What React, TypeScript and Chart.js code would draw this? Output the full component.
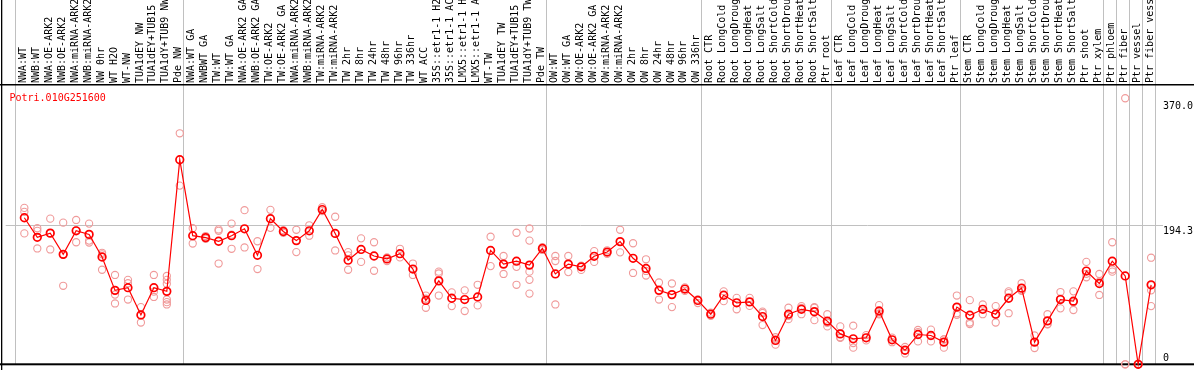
import React, { useEffect, useRef } from "react";
import { Chart, registerables } from "chart.js";

Chart.register(...registerables);

const geneId = "Potri.010G251600";

const categories = [
  "NWA:WT", "NWB:WT", "NWA:OE-ARK2", "NWB:OE-ARK2", "NWA:miRNA-ARK2", "NWB:miRNA-ARK2",
  "NW 0hr", "WT H2O", "WT-NW", "TUA1dEY NW", "TUA1dEY+TUB15 NW", "TUA1dY+TUB9 NW", "Pde NW",
  "NWA:WT GA", "NWBWT GA", "TW:WT", "TW:WT GA", "NWA:OE-ARK2 GA", "NWB:OE-ARK2 GA",
  "TW:OE-ARK2", "TW:OE-ARK2 GA", "NWA:miRNA-ARK2 GA", "NWB:miRNA-ARK2 GA", "TW:miRNA-ARK2",
  "TW:miRNA-ARK2 GA", "TW 2hr", "TW 8hr", "TW 24hr", "TW 48hr", "TW 96hr", "TW 336hr", "WT ACC",
  "35S::etr1-1 H2O", "35S::etr1-1 ACC", "LMX5::etr1-1 H2O", "LMX5::etr1-1 ACC", "WT-TW",
  "TUA1dEY TW", "TUA1dEY+TUB15 TW", "TUA1dY+TUB9 TW", "Pde TW",
  "OW:WT", "OW:WT GA", "OW:OE-ARK2", "OW:OE-ARK2 GA", "OW:miRNA-ARK2", "OW:miRNA-ARK2 GA",
  "OW 2hr", "OW 8hr", "OW 24hr", "OW 48hr", "OW 96hr", "OW 336hr",
  "Root CTR", "Root LongCold", "Root LongDrought", "Root LongHeat", "Root LongSalt",
  "Root ShortCold", "Root ShortDrought", "Root ShortHeat", "Root ShortSalt", "Ptr root",
  "Leaf CTR", "Leaf LongCold", "Leaf LongDrought", "Leaf LongHeat", "Leaf LongSalt",
  "Leaf ShortCold", "Leaf ShortDrought", "Leaf ShortHeat", "Leaf ShortSalt", "Ptr leaf",
  "Stem CTR", "Stem LongCold", "Stem LongDrought", "Stem LongHeat", "Stem LongSalt",
  "Stem ShortCold", "Stem ShortDrought", "Stem ShortHeat", "Stem ShortSalt", "Ptr shoot",
  "Ptr xylem", "Ptr phloem", "Ptr fiber", "Ptr vessel", "Ptr fiber vessel",
];

// index of the first category of each group (last entry = end)
const groupStarts = [0, 13, 41, 53, 63, 73, 84, 85, 86, 87, 88];

const means = [
  205.7, 178.2, 184.1, 154.3, 187.4, 182.3, 150.6, 103.8, 107.5, 69.3, 107.5, 102.4, 287.1,
  180.5, 177.8, 172.7, 180.5, 190.2, 153.0, 204.4, 186.4, 173.6, 187.4, 217.2, 183.7, 146.1,
  161.2, 152.0, 147.9, 155.2, 133.7, 89.6, 117.1, 92.7, 90.9, 94.5, 159.8, 140.6, 144.7, 139.2,
  162.6, 126.8, 140.6, 136.8, 151.6, 157.5, 172.2, 148.8, 134.5, 103.8, 97.8, 105.6, 89.6,
  70.3, 96.9, 86.3, 87.6, 67.0, 33.5, 70.3, 77.2, 73.9, 60.6, 42.7,
  35.8, 37.2, 74.8, 34.4, 19.7, 41.8, 40.4, 31.1, 80.3, 68.9,
  77.2, 70.3, 92.7, 106.9, 31.1, 61.0, 90.9, 88.6, 130.9, 113.4, 144.7, 124.0, 0, 111.6,
];

const replicates = [
  [219.5, 214, 183.7], [191, 187.4, 162.6], [204.4, 184.1, 161.2], [198.8, 154, 110.2],
  [202.6, 188, 171.3], [197.5, 173.6, 170.9], [156.5, 154.3, 132.7], [125.4, 97.8, 85.4],
  [118.5, 113.8, 90.9], [80.3, 69, 58.7], [125.4, 102, 94.5], [124, 118.5, 113, 90.9, 87.2, 84],
  [324.2, 250.8],
  [191, 169.5], [180, 176], [187.4, 189.3, 141.4], [197.5, 182, 162.1], [216.3, 164],
  [172.7, 133.7], [216.8, 191.5], [188.3, 184.5], [188.8, 157.5], [195.1, 180.5], [220.5, 215],
  [207.1, 159.8], [157.5, 153, 132.7], [176.8, 143.7], [171.3, 131.3], [150, 145], [162.1, 150],
  [141.4, 125.4], [96.5, 92, 79.4], [130, 127.5, 96.5], [101, 81.7], [103.8, 74.8], [111.6, 82.7],
  [179.1, 137.8], [152, 126.8], [184.6, 136.8, 111.6], [190.6, 173.6, 130, 118.5, 99.2],
  [164.5, 160.5],
  [152, 145, 84], [152, 129.4], [138.5, 132.5], [158.9, 143.7], [160, 155], [188.8, 157.1],
  [169.9, 128.2], [147.4, 131, 124.6], [114.8, 90.9], [113.4, 80.3], [108, 103], [91, 86],
  [72.5, 68], [102.4, 88.6], [93.2, 77.2], [93.2, 82], [73.9, 55.1, 72], [38, 27.6, 35],
  [79.4, 63.4, 68], [81.7, 70.3, 79], [80.3, 79.4, 62], [70.3, 53.2, 58.3],
  [53.2, 38, 37], [54.2, 23.4, 29.8], [41, 33.5], [83.1, 70, 71.3], [37.5, 31], [24.3, 19.7, 15.2],
  [48.2, 45, 32.1], [48.6, 40.4, 32.1], [35, 23.4, 35], [96.5, 71.7, 69.5],
  [90, 58.7, 56.5], [84, 70.3], [81.7, 58.7, 70.3], [102.4, 100, 71.7], [113.8, 104, 103],
  [40.4, 22.9], [70.3, 56.5, 56], [101.4, 92, 78.5], [102.4, 87, 76.2], [143.7, 127, 122.1],
  [126.8, 116, 97.3], [171.3, 133, 130], [373.4, 0, 0], [0, 0, 0], [149.6, 111, 103.8, 81.7],
];

const yTickValues = [0, 194.3, 370.0];
const yTickLabels = ["0", "194.3", "370.0"];
const yMax = 392;

const MONO = '"DejaVu Sans Mono", "Liberation Mono", monospace';

const framePlugin = {
  id: "frame",
  beforeDatasetsDraw(chart: any) {
    const { ctx, chartArea, scales } = chart;
    const xs = scales.x;
    ctx.save();
    ctx.fillStyle = "#c0c0c0";
    groupStarts.forEach((k) => {
      const px = Math.floor(xs.getPixelForValue(k - 0.68));
      ctx.fillRect(px, 0, 1, chartArea.bottom);
    });
    ctx.fillStyle = "#000";
    ctx.fillRect(1, 0, 1.3, chart.height);
    ctx.fillRect(0, chartArea.top - 1, chart.width, 1.5);
    ctx.fillRect(0, chartArea.bottom - 1, chart.width, 2);
    ctx.restore();
  },
  afterDatasetsDraw(chart: any) {
    const { ctx, chartArea, scales } = chart;
    const ys = scales.y;
    ctx.save();
    ctx.font = `10px ${MONO}`;
    ctx.fillStyle = "#ff0000";
    ctx.textAlign = "left";
    ctx.textBaseline = "alphabetic";
    ctx.fillText(geneId, 9.5, chartArea.top + 15.5);
    ctx.fillStyle = "#000";
    ys.ticks.forEach((t: any) => {
      const py = ys.getPixelForValue(t.value);
      const label = yTickLabels[yTickValues.indexOf(t.value)] ?? String(t.value);
      if (py > chartArea.bottom - 6) {
        ctx.textBaseline = "alphabetic";
        ctx.fillText(label, chartArea.right + 8, py - 3.5);
      } else {
        ctx.textBaseline = "top";
        ctx.fillText(label, chartArea.right + 8, py + 0.5);
      }
    });
    ctx.restore();
  },
};

export default function App() {
  const ref = useRef<HTMLCanvasElement | null>(null);
  useEffect(() => {
    document.body.style.margin = "0";
    const canvas = ref.current;
    if (!canvas) return;
    const meanData = means.map((v, i) => ({ x: i, y: v }));
    const repData: { x: number; y: number }[] = [];
    replicates.forEach((arr, i) => arr.forEach((v) => repData.push({ x: i, y: v })));
    const chart = new Chart(canvas, {
      type: "line",
      data: {
        datasets: [
          {
            label: "mean",
            data: meanData,
            borderColor: "#ff0000",
            borderWidth: 1.2,
            pointRadius: 3.8,
            pointBorderWidth: 1.7,
            pointBorderColor: "#ff0000",
            pointBackgroundColor: "rgba(0,0,0,0)",
            tension: 0,
            clip: false,
          },
          {
            label: "replicates",
            data: repData,
            showLine: false,
            borderColor: "#f09a9a",
            pointRadius: 3.6,
            pointBorderWidth: 1.1,
            pointBorderColor: "#f09a9a",
            pointBackgroundColor: "rgba(0,0,0,0)",
            clip: false,
          },
        ],
      },
      options: {
        responsive: false,
        animation: false,
        devicePixelRatio: 1,
        layout: { padding: { left: 1, bottom: 1, top: 0, right: 0 } },
        plugins: { legend: { display: false }, tooltip: { enabled: false } },
        events: [],
        scales: {
          x: {
            type: "linear",
            position: "top",
            min: -1.44,
            max: 87.3,
            grid: { display: false, drawTicks: false },
            border: { display: false },
            afterBuildTicks: (scale: any) => {
              scale.ticks = categories.map((_, i) => ({ value: i }));
            },
            afterFit: (scale: any) => {
              scale.height = 85;
            },
            ticks: {
              autoSkip: false,
              minRotation: 90,
              maxRotation: 90,
              padding: 2,
              labelOffset: 11,
              color: "#000",
              font: { family: MONO, size: 10 },
              callback: (v: any) => categories[v as number] ?? "",
            },
          },
          y: {
            type: "linear",
            position: "right",
            min: 0,
            max: yMax,
            afterBuildTicks: (scale: any) => {
              scale.ticks = yTickValues.map((v) => ({ value: v }));
            },
            afterFit: (scale: any) => {
              scale.width = 39;
            },
            border: { display: false },
            grid: {
              color: (c: any) => (c.tick && c.tick.value === 194.3 ? "#c0c0c0" : "rgba(0,0,0,0)"),
              tickColor: (c: any) => (c.tick && c.tick.value === 194.3 ? "#c0c0c0" : "rgba(0,0,0,0)"),
              drawTicks: true,
              tickLength: 8,
              lineWidth: 1,
            },
            ticks: { display: false },
          },
        },
      },
      plugins: [framePlugin],
    } as any);
    return () => chart.destroy();
  }, []);
  return (
    <canvas
      ref={ref}
      width={1194}
      height={370}
      style={{ display: "block", width: 1194, height: 370 }}
    />
  );
}
